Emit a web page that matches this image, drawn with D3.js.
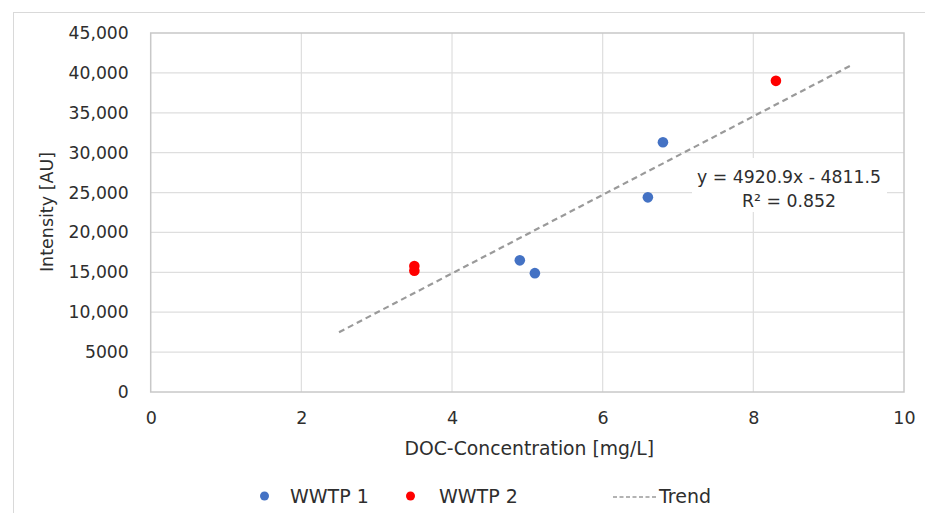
<!DOCTYPE html>
<html><head><meta charset="utf-8">
<script src="https://cdn.jsdelivr.net/npm/d3@7"></script>
<style>
html,body{margin:0;padding:0;background:#fff;}
text{font-family:"DejaVu Sans",sans-serif;fill:#2e2e2e;}
</style></head>
<body><svg id="c" width="925" height="513"></svg>
<script>
// data
const wwtp1X = [4.9, 5.1, 6.6, 6.8];
const wwtp1Y = [16500, 14900, 24400, 31300];
const wwtp2X = [3.5, 3.5, 8.3];
const wwtp2Y = [15800, 15200, 39000];
const trendX = [2.5, 9.3];
const trendY = [7490, 40950];
const xTicks = [0, 2, 4, 6, 8, 10];
const yTicks = [0, 5000, 10000, 15000, 20000, 25000, 30000, 35000, 40000, 45000];
const yTickLabels = ["0", "5000", "10,000", "15,000", "20,000", "25,000", "30,000", "35,000", "40,000", "45,000"];
const seriesNames = ["WWTP 1", "WWTP 2", "Trend"];
const colors = ["#4472c4", "#ff0000", "#9a9a9a"];
const eqText = "y = 4920.9x - 4811.5";
const r2Text = "R² = 0.852";

const svg = d3.select("#c");
const x = d3.scaleLinear().domain([0, 10]).range([150.7, 904]);
const y = d3.scaleLinear().domain([0, 45000]).range([392, 33]);

// outer border
svg.append("rect").attr("x", 13.5).attr("y", 12.5).attr("width", 930).attr("height", 520)
  .attr("fill", "none").attr("stroke", "#d9d9d9").attr("stroke-width", 1);

// gridlines
const g = svg.append("g");
g.selectAll(".vg").data(xTicks.slice(1, -1)).join("line")
  .attr("x1", d => x(d)).attr("x2", d => x(d)).attr("y1", y(0)).attr("y2", y(45000))
  .attr("stroke", "#dedede").attr("stroke-width", 1.2);
g.selectAll(".hg").data(yTicks.slice(1, -1)).join("line")
  .attr("x1", x(0)).attr("x2", x(10)).attr("y1", d => y(d)).attr("y2", d => y(d))
  .attr("stroke", "#dedede").attr("stroke-width", 1.2);
// plot border
svg.append("rect").attr("x", x(0)).attr("y", y(45000)).attr("width", x(10) - x(0)).attr("height", y(0) - y(45000))
  .attr("fill", "none").attr("stroke", "#c8c8c8").attr("stroke-width", 1.5);

// axes (labels only)
const xAxis = svg.append("g").attr("transform", `translate(0,${y(0)})`)
  .call(d3.axisBottom(x).tickValues(xTicks).tickSize(0).tickPadding(20).tickFormat(d3.format("d")));
xAxis.select(".domain").remove();
xAxis.selectAll("text").attr("font-size", 17.5).attr("font-family", "DejaVu Sans").attr("fill", "#2e2e2e");

const yAxis = svg.append("g").attr("transform", `translate(${x(0)},0)`)
  .call(d3.axisLeft(y).tickValues(yTicks).tickSize(0).tickPadding(22).tickFormat((d, i) => yTickLabels[i]));
yAxis.select(".domain").remove();
yAxis.selectAll("text").attr("font-size", 17.2).attr("font-family", "DejaVu Sans").attr("fill", "#2e2e2e");

// axis titles
svg.append("text").attr("x", (x(0) + x(10)) / 2 + 2).attr("y", 455).attr("text-anchor", "middle")
  .attr("font-size", 18.8).text("DOC-Concentration [mg/L]");
svg.append("text").attr("transform", "translate(53,212) rotate(-90)").attr("text-anchor", "middle")
  .attr("font-size", 17.5).text("Intensity [AU]");

// trend line
const line = d3.line().x(d => x(d[0])).y(d => y(d[1]));
svg.append("path").datum(d3.zip(trendX, trendY)).attr("d", line)
  .attr("fill", "none").attr("stroke", colors[2]).attr("stroke-width", 2.2).attr("stroke-dasharray", "6,4");

// equation label box
svg.append("rect").attr("x", 692).attr("y", 158).attr("width", 195).attr("height", 54).attr("fill", "#fff");
svg.append("text").attr("x", 789).attr("y", 183).attr("text-anchor", "middle").attr("font-size", 17.3).text(eqText);
svg.append("text").attr("x", 789).attr("y", 207).attr("text-anchor", "middle").attr("font-size", 17.3).text(r2Text);

// points
svg.append("g").selectAll("circle").data(d3.zip(wwtp1X, wwtp1Y)).join("circle")
  .attr("cx", d => x(d[0])).attr("cy", d => y(d[1])).attr("r", 5.3).attr("fill", colors[0]);
svg.append("g").selectAll("circle").data(d3.zip(wwtp2X, wwtp2Y)).join("circle")
  .attr("cx", d => x(d[0])).attr("cy", d => y(d[1])).attr("r", 5.3).attr("fill", colors[1]);

// legend
const ly = 496;
svg.append("circle").attr("cx", 264.5).attr("cy", ly).attr("r", 4.5).attr("fill", colors[0]);
svg.append("text").attr("x", 290).attr("y", ly).attr("dy", "0.36em").attr("font-size", 19).text(seriesNames[0]);
svg.append("circle").attr("cx", 410.5).attr("cy", ly).attr("r", 4.5).attr("fill", colors[1]);
svg.append("text").attr("x", 439).attr("y", ly).attr("dy", "0.36em").attr("font-size", 19).text(seriesNames[1]);
svg.append("line").attr("x1", 613).attr("x2", 658).attr("y1", ly + 1).attr("y2", ly + 1)
  .attr("stroke", colors[2]).attr("stroke-width", 1.5).attr("stroke-dasharray", "4,2.5");
svg.append("text").attr("x", 659).attr("y", ly).attr("dy", "0.36em").attr("font-size", 19).text(seriesNames[2]);
</script></body></html>
